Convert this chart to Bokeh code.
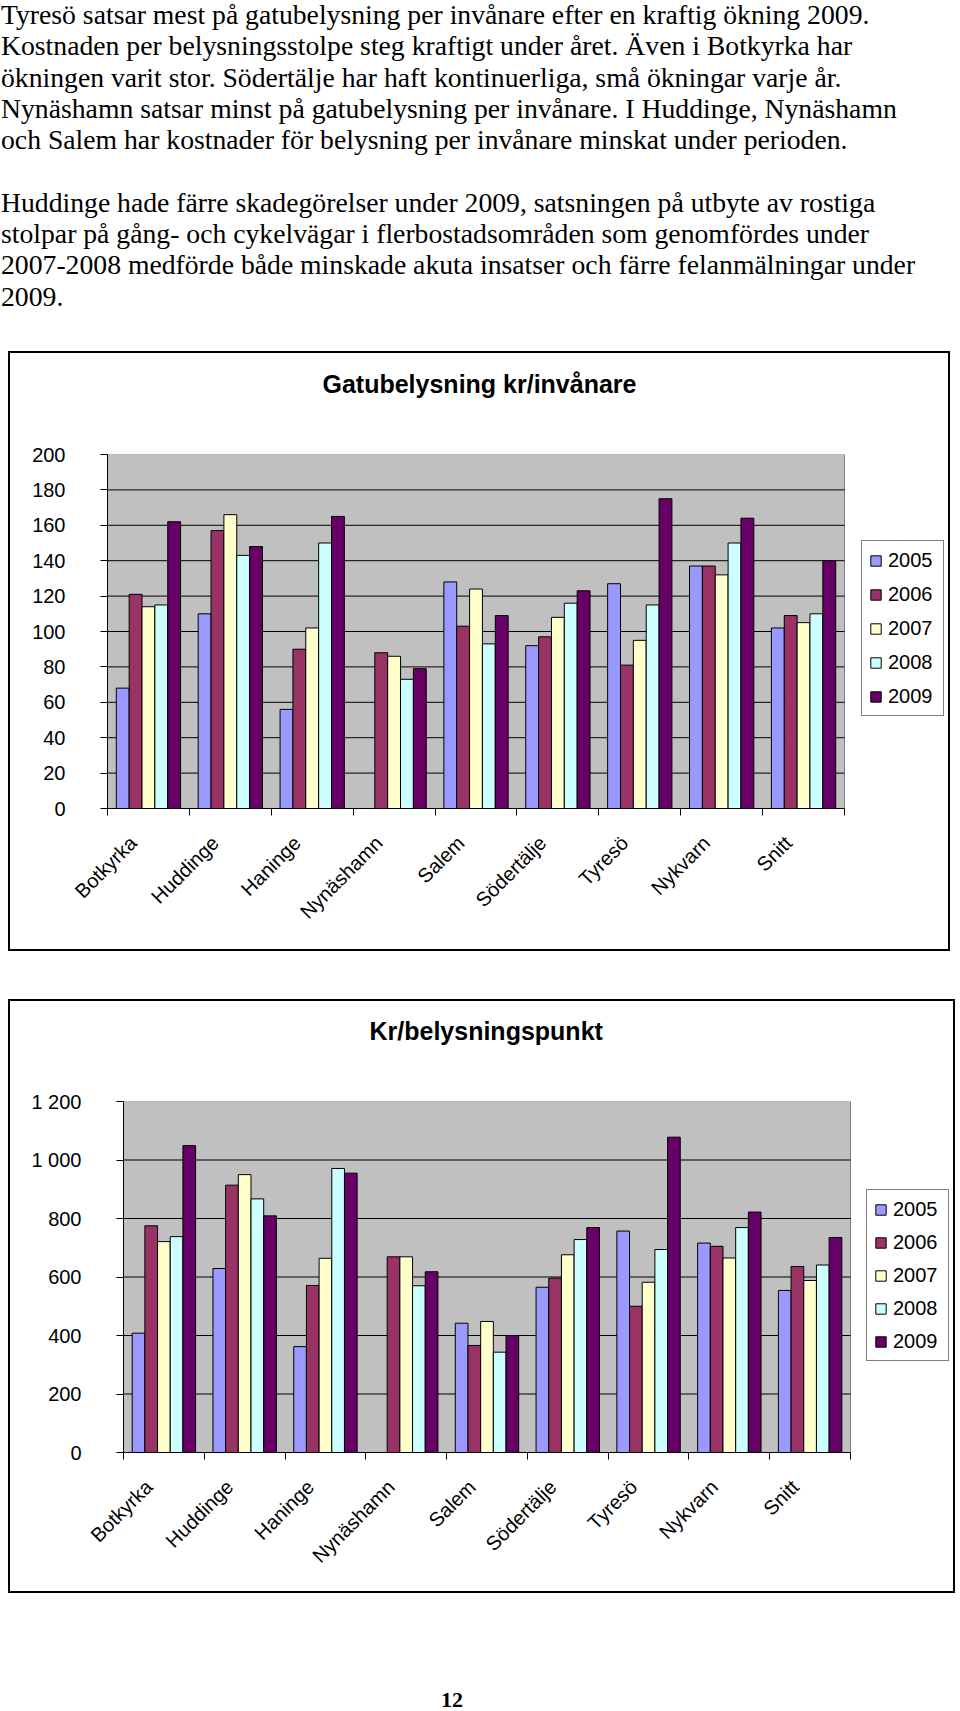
import numpy as np
from math import pi
from bokeh.plotting import figure
from bokeh.models import (FixedTicker, Legend, LegendItem, Div, Range1d, LinearAxis)
from bokeh.embed import file_html
from bokeh.resources import INLINE

# ---------------- data ----------------
categories = ["Botkyrka", "Huddinge", "Haninge", "Nynäshamn", "Salem",
              "Södertälje", "Tyresö", "Nykvarn", "Snitt"]
years = ["2005", "2006", "2007", "2008", "2009"]
colors = ["#9999FF", "#993366", "#FFFFCC", "#CCFFFF", "#660066"]

# Gatubelysning kr/invånare
kr_inv_2005 = [68, 110, 56, None, 128, 92, 127, 137, 102]
kr_inv_2006 = [121, 157, 90, 88, 103, 97, 81, 137, 109]
kr_inv_2007 = [114, 166, 102, 86, 124, 108, 95, 132, 105]
kr_inv_2008 = [115, 143, 150, 73, 93, 116, 115, 150, 110]
kr_inv_2009 = [162, 148, 165, 79, 109, 123, 175, 164, 140]

# Kr/belysningspunkt
kr_pkt_2005 = [408, 629, 362, None, 442, 565, 757, 716, 554]
kr_pkt_2006 = [775, 914, 571, 669, 366, 596, 500, 705, 636]
kr_pkt_2007 = [721, 950, 664, 669, 448, 676, 582, 665, 588]
kr_pkt_2008 = [738, 867, 971, 570, 343, 728, 694, 769, 641]
kr_pkt_2009 = [1049, 809, 955, 618, 400, 769, 1078, 822, 735]

y1_ticks = [0, 20, 40, 60, 80, 100, 120, 140, 160, 180, 200]
y1_tick_labels = ["0", "20", "40", "60", "80", "100", "120", "140", "160", "180", "200"]
y2_ticks = [0, 200, 400, 600, 800, 1000, 1200]
y2_tick_labels = ["0", "200", "400", "600", "800", "1 000", "1 200"]

text_lines = [
    "Tyresö satsar mest på gatubelysning per invånare efter en kraftig ökning 2009.",
    "Kostnaden per belysningsstolpe steg kraftigt under året. Även i Botkyrka har",
    "ökningen varit stor. Södertälje har haft kontinuerliga, små ökningar varje år.",
    "Nynäshamn satsar minst på gatubelysning per invånare. I Huddinge, Nynäshamn",
    "och Salem har kostnader för belysning per invånare minskat under perioden.",
    "",
    "Huddinge hade färre skadegörelser under 2009, satsningen på utbyte av rostiga",
    "stolpar på gång- och cykelvägar i flerbostadsområden som genomfördes under",
    "2007-2008 medförde både minskade akuta insatser och färre felanmälningar under",
    "2009.",
]
page_number = "12"

SANS = "Liberation Sans"
SERIF = "Liberation Serif"


def make_chart(title, series, yticks, ylabels, width, height, bl, br, bt, bb,
               plot_px, title_left, title_gap, legend_xy, legend_spacing):
    n = len(categories)
    frame_px = width - bl - br              # width of the drawing frame
    x_end = n * frame_px / plot_px          # frame also holds the legend column
    p = figure(width=width, height=height, output_backend="svg",
               toolbar_location=None, x_range=Range1d(0, x_end),
               y_range=Range1d(yticks[0], yticks[-1]),
               min_border_left=bl, min_border_right=br,
               min_border_top=bt, min_border_bottom=bb)
    p.margin = (0, 0, 0, 8)
    p.styles = {"border": "2px solid black", "box-sizing": "border-box"}
    p.background_fill_color = "white"
    p.border_fill_color = "white"
    p.outline_line_color = None

    # grey plot area and its horizontal gridlines, bounded to the categories
    p.quad(left=[0], right=[n], bottom=[yticks[0]], top=[yticks[-1]],
           fill_color="#C0C0C0", line_color="#808080", line_width=1)
    grid_y = yticks[1:-1]
    p.segment(x0=[0] * len(grid_y), x1=[n] * len(grid_y), y0=grid_y, y1=grid_y,
              line_color="black", line_width=1)

    idx = np.arange(n)
    bw = 0.157
    renderers = []
    for k, vals in enumerate(series):
        top = np.array([np.nan if v is None else v for v in vals], dtype=float)
        x = idx + 0.5 + (k - 2) * bw
        r = p.vbar(x=x, top=top, bottom=0, width=bw, fill_color=colors[k],
                   line_color="black", line_width=1)
        renderers.append(r)

    # y axis
    ya = p.yaxis[0]
    ya.ticker = FixedTicker(ticks=yticks)
    ya.major_label_overrides = {t: l for t, l in zip(yticks, ylabels)}
    ya.major_tick_out = 7
    ya.major_tick_in = 0
    ya.minor_tick_line_color = None
    ya.axis_line_color = "black"
    ya.major_tick_line_color = "black"
    ya.major_label_text_font = SANS
    ya.major_label_text_font_size = "20px"
    ya.major_label_text_color = "black"
    ya.major_label_standoff = 35

    # x axis: category labels (slightly left of centre, as in the source),
    # tick marks at the category boundaries
    lab_pos = [float(i) + 0.5 - 0.185 for i in idx]
    xa = p.xaxis[0]
    xa.bounds = (0, n)
    xa.ticker = FixedTicker(ticks=lab_pos, minor_ticks=list(range(n + 1)))
    xa.major_label_overrides = {pos: c for pos, c in zip(lab_pos, categories)}
    xa.major_tick_line_color = None
    xa.major_tick_out = 7
    xa.major_tick_in = 0
    xa.minor_tick_line_color = "black"
    xa.minor_tick_out = 7
    xa.minor_tick_in = 0
    xa.axis_line_color = "black"
    xa.major_label_orientation = pi / 4
    xa.major_label_text_font = SANS
    xa.major_label_text_font_size = "20px"
    xa.major_label_text_color = "black"
    xa.major_label_standoff = 24

    p.xgrid.visible = False
    p.ygrid.visible = False

    # invisible spacer between title and plot area
    spacer_axis = LinearAxis(ticker=FixedTicker(ticks=[0.0]),
                             major_label_overrides={0.0: ""},
                             axis_line_color=None, major_tick_line_color=None,
                             minor_tick_line_color=None,
                             major_tick_out=title_gap, major_tick_in=0,
                             major_label_standoff=0,
                             major_label_text_font_size="1px")
    p.add_layout(spacer_axis, "above")

    p.title.text = title
    p.title.text_font = SANS
    p.title.text_font_size = "25px"
    p.title.text_font_style = "bold"
    p.title.text_color = "black"
    p.title.align = "left"
    p.title.vertical_align = "bottom"
    p.title.offset = title_left
    p.title.standoff = 10

    legend = Legend(items=[LegendItem(label=y, renderers=[r])
                           for y, r in zip(years, renderers)],
                    location=legend_xy)
    legend.border_line_color = "black"
    legend.border_line_width = 1
    legend.background_fill_color = "white"
    legend.background_fill_alpha = 1
    legend.label_text_font = SANS
    legend.label_text_font_size = "20px"
    legend.label_text_color = "black"
    legend.label_height = 24
    legend.label_width = 48
    legend.glyph_width = 13
    legend.glyph_height = 13
    legend.label_standoff = 6
    legend.padding = 7
    legend.spacing = legend_spacing
    legend.margin = 0
    p.add_layout(legend)
    return p


p1 = make_chart("Gatubelysning kr/invånare",
                [kr_inv_2005, kr_inv_2006, kr_inv_2007, kr_inv_2008, kr_inv_2009],
                y1_ticks, y1_tick_labels, 942, 600, 97, 4, 101, 145,
                737, 215, 52, (754, 92), 10)
p2 = make_chart("Kr/belysningspunkt",
                [kr_pkt_2005, kr_pkt_2006, kr_pkt_2007, kr_pkt_2008, kr_pkt_2009],
                y2_ticks, y2_tick_labels, 947, 594, 113, 6, 100, 143,
                727, 246, 52, (743, 91), 9)

text_html = ("<div style=\"position:relative; left:1px; top:-1px; "
             "font-family:'Liberation Serif'; font-size:27.7px; line-height:31.3px; "
             "white-space:nowrap; color:black;\">"
             + "<br>".join(l if l else "&nbsp;" for l in text_lines) + "</div>")
text_div = Div(text=text_html, width=944, height=351, margin=0)
gap = Div(text="", width=944, height=48, margin=0)
num_div = Div(text=("<div style=\"position:absolute; left:441px; top:94px; "
                    "font-family:'Liberation Serif'; font-weight:bold; font-size:22px; "
                    "line-height:25px; color:black;\">" + page_number + "</div>"),
              width=944, height=100, margin=0)

open("out.html", "w").write(file_html([text_div, p1, gap, p2, num_div], INLINE))
